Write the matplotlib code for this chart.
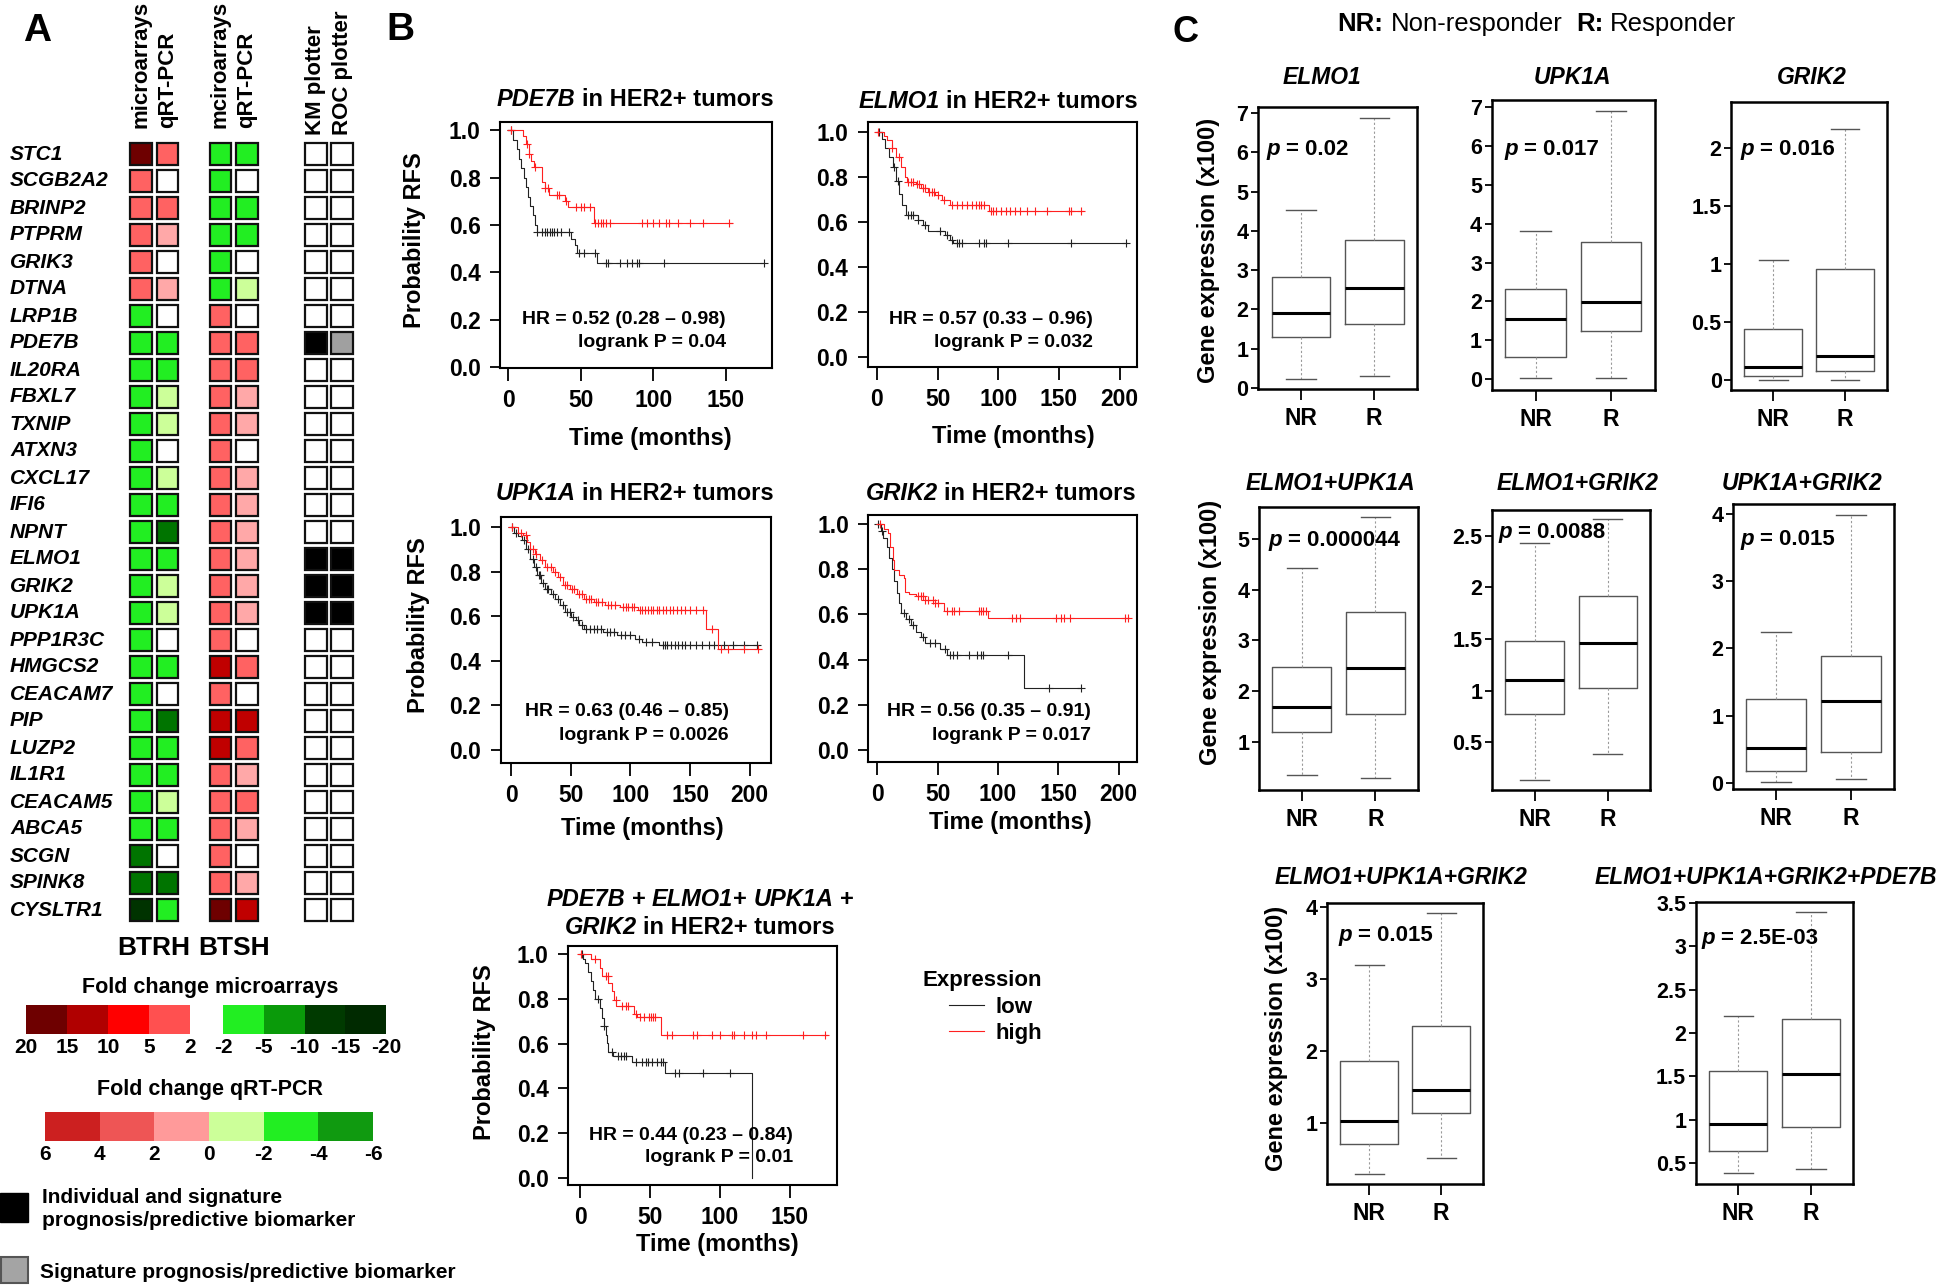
import matplotlib
matplotlib.use("Agg")
import matplotlib.pyplot as plt
import matplotlib.transforms as mtransforms
import numpy as np
from matplotlib.patches import Rectangle

W, H = 1946, 1285
FONT = "Liberation Sans"
plt.rcParams["font.family"] = [FONT, "DejaVu Sans"]

# ---------------- panel A data ----------------
genes = ["STC1", "SCGB2A2", "BRINP2", "PTPRM", "GRIK3", "DTNA", "LRP1B", "PDE7B",
         "IL20RA", "FBXL7", "TXNIP", "ATXN3", "CXCL17", "IFI6", "NPNT", "ELMO1",
         "GRIK2", "UPK1A", "PPP1R3C", "HMGCS2", "CEACAM7", "PIP", "LUZP2", "IL1R1",
         "CEACAM5", "ABCA5", "SCGN", "SPINK8", "CYSLTR1"]
btrh_micro = ["m20"] + ["m5"] * 5 + ["mg2"] * 20 + ["mg5", "mg5", "mg10"]
btrh_qpcr = ["q4", "w", "q4", "q2", "w", "q2", "w", "qg2", "qg2", "qg0", "qg0", "w", "qg0",
             "qg2", "qg4", "qg2", "qg0", "qg0", "w", "qg2", "w", "qg4", "qg2", "qg2", "qg0",
             "qg2", "w", "qg4", "qg2"]
btsh_micro = ["mg2"] * 6 + ["m5"] * 13 + ["m15", "m5", "m15", "m15", "m5", "m5", "m5",
                                          "m5", "m5", "m20"]
btsh_qpcr = ["qg2", "w", "qg2", "qg2", "w", "qg0", "w", "q4", "q4", "q2", "q2", "w", "q2",
             "q2", "q2", "q2", "q2", "q2", "w", "q4", "w", "q6", "q4", "q2", "q4", "q2",
             "w", "q2", "q6"]
km_plotter = ["w"] * 7 + ["k"] + ["w"] * 7 + ["k", "k", "k"] + ["w"] * 11
roc_plotter = ["w"] * 7 + ["g"] + ["w"] * 7 + ["k", "k", "k"] + ["w"] * 11
column_headers = ["microarrays", "qRT-PCR", "mciroarrays", "qRT-PCR", "KM plotter", "ROC plotter"]

cell_colors = {"m20": "#6e0000", "m15": "#c00000", "m5": "#ff6262", "mg2": "#22ee22",
               "mg5": "#007400", "mg10": "#003300", "q6": "#c00000", "q4": "#ff6262",
               "q2": "#ffa8a8", "qg0": "#ccff99", "qg2": "#22ee22", "qg4": "#007400",
               "w": "white", "k": "black", "g": "#a0a0a0"}

micro_up_ticks = ["20", "15", "10", "5", "2"]
micro_up_colors = ["#6e0000", "#b00000", "#ff0000", "#ff5050"]
micro_down_ticks = ["-2", "-5", "-10", "-15", "-20"]
micro_down_colors = ["#22ee22", "#0a9a0a", "#003a00", "#002a00"]
qpcr_ticks = ["6", "4", "2", "0", "-2", "-4", "-6"]
qpcr_colors = ["#cc2020", "#ee5555", "#ff9a9a", "#ccff99", "#22ee22", "#109a10"]

# ---------------- panel B data (months, survival) ----------------
pde7b_high_t = [0, 10, 12, 14, 16, 18, 23, 25, 28, 39, 41, 59]
pde7b_high_s = [1.0, 0.975, 0.94, 0.90, 0.87, 0.845, 0.78, 0.755, 0.725, 0.70, 0.676, 0.606]
pde7b_high_end = 154
pde7b_high_cens = [2, 12.7, 14.4, 18.4, 25, 27.4, 33.5, 35, 40, 47, 50, 52, 56, 60, 62, 63.6,
                   65.3, 67, 70.3, 92, 95.4, 100, 103.8, 108.8, 110.5, 117, 125.5, 134, 152]
pde7b_low_t = [0, 3, 6, 7.5, 9, 10.5, 12, 13.5, 15, 16.7, 18.4, 19.5, 43.5, 46, 47.5, 61]
pde7b_low_s = [1.0, 0.96, 0.92, 0.88, 0.84, 0.80, 0.76, 0.72, 0.68, 0.64, 0.60, 0.572, 0.54,
               0.514, 0.48, 0.437]
pde7b_low_end = 176
pde7b_low_cens = [2, 20, 23.4, 25, 27, 28.5, 30, 31.5, 33.5, 36, 42, 48.5, 52, 60, 67, 68.6,
                  77, 82, 85.4, 88.7, 90.4, 107, 176]

elmo1_high_t = [0, 6, 8, 12, 16, 20, 23, 25, 32, 36, 42, 48, 54, 60, 92]
elmo1_high_s = [1.0, 0.98, 0.963, 0.93, 0.889, 0.844, 0.80, 0.778, 0.768, 0.753, 0.733, 0.719,
                0.696, 0.677, 0.649]
elmo1_high_end = 170
elmo1_high_cens = [1, 12, 18, 26, 28, 30, 33, 35, 38, 40, 43, 45, 47, 50, 55, 62, 66, 70, 74,
                   78, 82, 84, 86, 88, 94, 96, 98, 102, 106, 110, 114, 118, 124, 130, 140,
                   158, 160, 168]
elmo1_low_t = [0, 4, 7, 10, 13, 16, 18, 21, 24, 34, 38, 42, 56, 60, 63]
elmo1_low_s = [1.0, 0.97, 0.93, 0.89, 0.844, 0.78, 0.726, 0.674, 0.63, 0.607, 0.585, 0.56,
               0.54, 0.52, 0.507]
elmo1_low_end = 206
elmo1_low_cens = [2, 14, 17, 26, 28, 30, 34, 40, 52, 58, 62, 66, 68, 70, 84, 88, 90, 108,
                  160, 205]

upk1a_high_t = [0, 6, 10, 13, 16, 20, 24, 28, 35, 39, 43, 49, 55, 61, 69, 79, 91, 106, 163, 173]
upk1a_high_s = [1.0, 0.975, 0.963, 0.933, 0.903, 0.881, 0.851, 0.821, 0.799, 0.776, 0.739,
                0.724, 0.70, 0.679, 0.665, 0.649, 0.642, 0.627, 0.545, 0.451]
upk1a_high_end = 209
upk1a_high_cens = [1, 8, 12, 18, 21, 26, 30, 33, 37, 41, 45, 47, 51, 53, 57, 59, 63, 65, 67,
                   71, 73, 76, 81, 84, 87, 94, 96, 98, 101, 103, 108, 110, 112, 115, 117, 119,
                   122, 124, 127, 130, 133, 136, 139, 142, 146, 150, 155, 161, 168, 176, 182,
                   195, 207]
upk1a_low_t = [0, 2, 6, 9, 12, 16, 19, 22, 25, 28, 33, 37, 41, 45, 50, 54, 57, 61, 77, 89,
               104, 110, 124]
upk1a_low_s = [1.0, 0.975, 0.96, 0.94, 0.90, 0.858, 0.82, 0.784, 0.75, 0.724, 0.70, 0.679,
               0.65, 0.619, 0.597, 0.582, 0.56, 0.545, 0.53, 0.515, 0.50, 0.485, 0.47]
upk1a_low_end = 207
upk1a_low_cens = [1, 4, 11, 14, 18, 21, 23, 24, 27, 30, 31, 35, 39, 43, 47, 49, 52, 56, 59,
                  63, 66, 69, 72, 75, 80, 83, 86, 92, 95, 100, 107, 113, 118, 127, 129, 131,
                  134, 137, 140, 143, 146, 150, 155, 160, 166, 170, 178, 186, 195, 206]

grik2_high_t = [0, 6, 9, 11, 13, 14, 18, 22, 23, 26, 32, 40, 48, 55, 92]
grik2_high_s = [1.0, 0.98, 0.96, 0.90, 0.842, 0.798, 0.775, 0.76, 0.70, 0.69, 0.68, 0.665,
                0.65, 0.613, 0.583]
grik2_high_end = 209
grik2_high_cens = [2, 34, 36, 38, 40, 42, 46, 48, 50, 58, 62, 64, 68, 84, 86, 88, 90, 112,
                   115, 118, 148, 152, 155, 160, 205, 208]
grik2_low_t = [0, 3, 5, 8, 10, 12, 14, 16, 18, 20, 24, 28, 32, 36, 40, 52, 58, 122]
grik2_low_s = [1.0, 0.97, 0.94, 0.90, 0.85, 0.80, 0.746, 0.694, 0.65, 0.606, 0.58, 0.554,
               0.524, 0.502, 0.473, 0.446, 0.421, 0.276]
grik2_low_end = 169
grik2_low_cens = [1, 4, 22, 26, 30, 38, 44, 48, 56, 60, 63, 66, 76, 83, 86, 88, 108, 142, 169]

sig_high_t = [0, 7.6, 14, 16, 20, 22.7, 24, 26, 38.7, 40.7, 57.6]
sig_high_s = [1.0, 0.979, 0.9375, 0.90, 0.87, 0.833, 0.796, 0.769, 0.732, 0.72, 0.64]
sig_high_end = 176.7
sig_high_cens = [0.9, 11, 18.3, 19.8, 25.6, 30, 33, 34.6, 40, 43, 46, 49, 50.6, 52, 53.5, 62,
                 66, 80.8, 83.7, 94, 99.7, 108.4, 110, 117, 123, 126, 133, 159, 175]
sig_low_t = [0, 1.8, 3.8, 5.8, 7.6, 9.6, 11, 14, 15.4, 16.9, 18.3, 19.2, 20.3, 23.3, 37.2,
             60.5, 123]
sig_low_s = [1.0, 0.98, 0.96, 0.92, 0.878, 0.84, 0.80, 0.76, 0.714, 0.68, 0.64, 0.603, 0.565,
             0.543, 0.516, 0.469, 0.0]
sig_low_end = 123
sig_low_cens = [1.7, 12.5, 17.4, 22.7, 27, 29, 31.4, 32.8, 40, 44.5, 47.4, 48.8, 51.7, 54.7,
                57.6, 59, 67.7, 70.6, 88, 107]

hr_labels = ["HR = 0.52 (0.28 \u2013 0.98)", "HR = 0.57 (0.33 \u2013 0.96)",
             "HR = 0.63 (0.46 \u2013 0.85)", "HR = 0.56 (0.35 \u2013 0.91)",
             "HR = 0.44 (0.23 \u2013 0.84)"]
logrank_labels = ["logrank P = 0.04", "logrank P = 0.032", "logrank P = 0.0026",
                  "logrank P = 0.017", "logrank P = 0.01"]

# ---------------- panel C data: [whisker low, Q1, median, Q3, whisker high] ----------------
elmo1_nr = [0.23, 1.30, 1.90, 2.82, 4.54]
elmo1_r = [0.30, 1.64, 2.54, 3.77, 6.87]
upk1a_nr = [0.03, 0.58, 1.56, 2.31, 3.81]
upk1a_r = [0.04, 1.24, 1.99, 3.52, 6.91]
grik2_nr = [0.0, 0.03, 0.11, 0.44, 1.03]
grik2_r = [0.0, 0.07, 0.20, 0.955, 2.17]
elmo1_upk1a_nr = [0.34, 1.19, 1.69, 2.48, 4.43]
elmo1_upk1a_r = [0.28, 1.54, 2.45, 3.55, 5.43]
elmo1_grik2_nr = [0.135, 0.775, 1.10, 1.485, 2.435]
elmo1_grik2_r = [0.384, 1.023, 1.46, 1.92, 2.66]
upk1a_grik2_nr = [0.015, 0.17, 0.52, 1.24, 2.24]
upk1a_grik2_r = [0.05, 0.45, 1.22, 1.89, 3.985]
three_nr = [0.29, 0.70, 1.03, 1.86, 3.19]
three_r = [0.51, 1.13, 1.45, 2.34, 3.91]
four_nr = [0.385, 0.646, 0.95, 1.56, 2.195]
four_r = [0.43, 0.92, 1.53, 2.16, 3.40]
p_values = ["0.02", "0.017", "0.016", "0.000044", "0.0088", "0.015", "0.015", "2.5E-03"]
groups = ["NR", "R"]

fig = plt.figure(figsize=(W / 100, H / 100), dpi=100)
renderer = fig.canvas.get_renderer()


def fx(x):
    return x / W


def fy(y):
    return 1 - y / H


def box(x0, y0, x1, y1):
    return [x0 / W, 1 - y1 / H, (x1 - x0) / W, (y1 - y0) / H]


def label(x, y, s, size, **kw):
    kw.setdefault("ha", "center")
    kw.setdefault("va", "center")
    kw.setdefault("fontweight", "bold")
    return fig.text(fx(x), fy(y), s, fontsize=size, family=FONT, **kw)


def rich_text(x, y, parts, size, ha="center"):
    # pieces of mixed style laid side by side; y is the middle of the capitals (pixels)
    em = size * 100 / 72
    base = fy(y + 0.36 * em)
    placed, widths = [], []
    for s, weight, style in parts:
        gap = (len(s) - len(s.lstrip(" "))) * 0.27 * em
        t = fig.text(0, base, s.lstrip(" "), fontsize=size, fontweight=weight,
                     fontstyle=style, family=FONT, ha="left", va="baseline")
        placed.append((t, gap))
        widths.append(gap + t.get_window_extent(renderer).width)
    x0 = x - sum(widths) / 2 if ha == "center" else x
    for (t, gap), w in zip(placed, widths):
        t.set_x(fx(x0 + gap))
        x0 += w


# ================= Panel A =================
label(37, 31, "A", 28)
col_x = [0, 1, 3, 4, 6.6, 7.6]
columns = [btrh_micro, btrh_qpcr, btsh_micro, btsh_qpcr, km_plotter, roc_plotter]
ax = fig.add_axes(box(127.75, 140.5, 127.75 + 8.6 * 26.5, 140.5 + 29 * 27))
ax.set_xlim(-0.5, 8.1)
ax.set_ylim(28.5, -0.5)
ax.axis("off")
for cx, col in zip(col_x, columns):
    for i, code in enumerate(col):
        ax.add_patch(Rectangle((cx - 0.415, i - 0.405), 0.83, 0.81,
                               facecolor=cell_colors[code], edgecolor="#111111", lw=1.6))
for j, (cx, head) in enumerate(zip(col_x, column_headers)):
    ax.text(cx, -0.96 if j < 4 else -0.70, head, rotation=90, ha="center", va="bottom",
            fontsize=16, fontweight="bold")
trans = mtransforms.blended_transform_factory(fig.transFigure, ax.transData)
for i, g in enumerate(genes):
    ax.text(fx(10), i, g, transform=trans, ha="left", va="center", fontsize=15,
            fontweight="bold", fontstyle="italic")
ax.text(0.5, 29.4, "BTRH", ha="center", va="center", fontsize=19, fontweight="bold")
ax.text(3.5, 29.4, "BTSH", ha="center", va="center", fontsize=19, fontweight="bold")

# colour keys
label(210, 987, "Fold change microarrays", 15.5)
label(210, 1089, "Fold change qRT-PCR", 15.5)
for rect, cols, ticks in [((26, 1005, 190, 1034), micro_up_colors, micro_up_ticks),
                          ((223, 1005, 386, 1034), micro_down_colors, micro_down_ticks),
                          ((45, 1112, 373, 1141), qpcr_colors, qpcr_ticks)]:
    cax = fig.add_axes(box(*rect))
    cax.bar(np.arange(len(cols)), 1, width=1, align="edge", color=cols, linewidth=0)
    cax.set_xlim(0, len(cols))
    cax.set_ylim(0, 1)
    cax.set_yticks([])
    cax.set_xticks(np.arange(len(ticks)), ticks, fontsize=15, fontweight="bold")
    cax.tick_params(axis="x", length=0, pad=3)
    for sp in cax.spines.values():
        sp.set_visible(False)

fig.add_artist(Rectangle((fx(0), fy(1222)), 28 / W, 29 / H, transform=fig.transFigure,
                         facecolor="black", edgecolor="black"))
fig.add_artist(Rectangle((fx(1), fy(1283)), 27 / W, 26 / H, transform=fig.transFigure,
                         facecolor="#a4a4a4", edgecolor="#555555", lw=1.5))
label(42, 1209, "Individual and signature\nprognosis/predictive biomarker", 15, ha="left",
      linespacing=1.25)
label(40, 1272, "Signature prognosis/predictive biomarker", 15, ha="left")

# ================= Panel B =================
label(400, 30, "B", 28)


def km_curve(kax, times, surv, end, cens, color):
    line, = kax.step(list(times) + [end], list(surv) + [surv[-1]], where="post",
                     color=color, lw=0.8)
    idx = np.searchsorted(times, cens, side="right") - 1
    kax.plot(cens, np.asarray(surv)[idx], ls="none", marker="+", ms=6, mew=0.8, color=color)
    return line


def gene_title(gene):
    return [[(gene, "bold", "italic"), (" in HER2+ tumors", "bold", "normal")]]


km_specs = [
    dict(rect=(500, 122, 772, 368), xlim=(-5.7, 181.7), ylim=(-0.005, 1.035),
         xticks=[0, 50, 100, 150],
         low=(pde7b_low_t, pde7b_low_s, pde7b_low_end, pde7b_low_cens),
         high=(pde7b_high_t, pde7b_high_s, pde7b_high_end, pde7b_high_cens),
         title=gene_title("PDE7B"), title_xy=(635, [98]), hr_xy=(726, 320, 343),
         xlab=(650, 438)),
    dict(rect=(867.5, 122, 1136.5, 367), xlim=(-7.8, 214), ylim=(-0.044, 1.044),
         xticks=[0, 50, 100, 150, 200],
         low=(elmo1_low_t, elmo1_low_s, elmo1_low_end, elmo1_low_cens),
         high=(elmo1_high_t, elmo1_high_s, elmo1_high_end, elmo1_high_cens),
         title=gene_title("ELMO1"), title_xy=(998, [100]), hr_xy=(1093, 320, 343),
         xlab=(1013, 437)),
    dict(rect=(500.5, 517, 770.5, 763), xlim=(-9, 217.4), ylim=(-0.058, 1.045),
         xticks=[0, 50, 100, 150, 200],
         low=(upk1a_low_t, upk1a_low_s, upk1a_low_end, upk1a_low_cens),
         high=(upk1a_high_t, upk1a_high_s, upk1a_high_end, upk1a_high_cens),
         title=gene_title("UPK1A"), title_xy=(635, [492]), hr_xy=(729, 712, 736),
         xlab=(642, 828)),
    dict(rect=(868.4, 515, 1136.5, 762), xlim=(-7.3, 214.8), ylim=(-0.053, 1.04),
         xticks=[0, 50, 100, 150, 200],
         low=(grik2_low_t, grik2_low_s, grik2_low_end, grik2_low_cens),
         high=(grik2_high_t, grik2_high_s, grik2_high_end, grik2_high_cens),
         title=gene_title("GRIK2"), title_xy=(1001, [492]), hr_xy=(1091, 712, 736),
         xlab=(1010, 822)),
    dict(rect=(568.3, 946, 836.7, 1185), xlim=(-8.4, 183.4), ylim=(-0.031, 1.036),
         xticks=[0, 50, 100, 150],
         low=(sig_low_t, sig_low_s, sig_low_end, sig_low_cens),
         high=(sig_high_t, sig_high_s, sig_high_end, sig_high_cens),
         title=[[("PDE7B", "bold", "italic"), (" +", "bold", "normal"),
                 (" ELMO1", "bold", "italic"), ("+", "bold", "normal"),
                 (" UPK1A", "bold", "italic"), (" +", "bold", "normal")],
                gene_title("GRIK2")[0]],
         title_xy=(700, [897, 925]), hr_xy=(793, 1136, 1158), xlab=(717, 1245)),
]

legend_lines = []
for k, spec in enumerate(km_specs):
    kax = fig.add_axes(box(*spec["rect"]))
    low_line = km_curve(kax, *spec["low"], "#222222")
    high_line = km_curve(kax, *spec["high"], "#ff2020")
    legend_lines = [low_line, high_line]
    kax.set_xlim(*spec["xlim"])
    kax.set_ylim(*spec["ylim"])
    kax.set_xticks(spec["xticks"], [str(v) for v in spec["xticks"]], fontsize=16.5,
                   fontweight="bold")
    yt = [0, 0.2, 0.4, 0.6, 0.8, 1.0]
    kax.set_yticks(yt, [f"{v:.1f}" for v in yt], fontsize=16.5, fontweight="bold")
    kax.tick_params(axis="x", direction="out", length=9, width=1.3, pad=6)
    kax.tick_params(axis="y", direction="out", length=7, width=1.3, pad=7)
    for sp in kax.spines.values():
        sp.set_linewidth(1.5)
    for line_parts, ty in zip(spec["title"], spec["title_xy"][1]):
        rich_text(spec["title_xy"][0], ty, line_parts, 17)
    hx, hy1, hy2 = spec["hr_xy"]
    label(hx, hy1, hr_labels[k], 14, ha="right")
    label(hx, hy2, logrank_labels[k], 14, ha="right")
    label(spec["xlab"][0], spec["xlab"][1], "Time (months)", 17)

label(414, 240, "Probability RFS", 17, rotation=90)
label(418, 625, "Probability RFS", 17, rotation=90)
label(484, 1052, "Probability RFS", 17, rotation=90)

fig.legend(legend_lines, ["low", "high"], title="Expression", loc="upper left",
           bbox_to_anchor=(fx(923), fy(970)), frameon=False, borderpad=0, borderaxespad=0,
           handlelength=1.58, handletextpad=0.54, labelspacing=0.25, alignment="right",
           prop={"family": FONT, "weight": "bold", "size": 16},
           title_fontproperties={"family": FONT, "weight": "bold", "size": 16})

# ================= Panel C =================
label(1186, 33, "C", 26)
rich_text(1537, 22, [("NR:", "bold", "normal"), (" Non-responder", "normal", "normal"),
                     ("  R:", "bold", "normal"), (" Responder", "normal", "normal")], 18.5)

box_specs = [
    ((1258.3, 107, 1416.7, 389), (-0.03, 7.16), [0, 1, 2, 3, 4, 5, 6, 7], elmo1_nr, elmo1_r,
     "ELMO1", (1322, 78), (1266, 147)),
    ((1491.7, 100, 1655, 390), (-0.28, 7.19), [0, 1, 2, 3, 4, 5, 6, 7], upk1a_nr, upk1a_r,
     "UPK1A", (1572, 78), (1504, 147)),
    ((1731.4, 102, 1886.8, 390), (-0.09, 2.40), [0, 0.5, 1, 1.5, 2], grik2_nr, grik2_r,
     "GRIK2", (1812, 78), (1740, 147)),
    ((1259.2, 507, 1418.1, 790), (0.047, 5.63), [1, 2, 3, 4, 5], elmo1_upk1a_nr,
     elmo1_upk1a_r, "ELMO1+UPK1A", (1330, 483), (1268, 538)),
    ((1492.3, 510, 1650.2, 790), (0.038, 2.75), [0.5, 1, 1.5, 2, 2.5], elmo1_grik2_nr,
     elmo1_grik2_r, "ELMO1+GRIK2", (1578, 483), (1498, 530)),
    ((1732.9, 504, 1894.3, 789), (-0.094, 4.15), [0, 1, 2, 3, 4], upk1a_grik2_nr,
     upk1a_grik2_r, "UPK1A+GRIK2", (1802, 483), (1740, 537)),
    ((1327.4, 903, 1483, 1184), (0.15, 4.05), [1, 2, 3, 4], three_nr, three_r,
     "ELMO1+UPK1A+GRIK2", (1401, 878), (1338, 933)),
    ((1695.9, 902, 1853.3, 1184), (0.26, 3.51), [0.5, 1, 1.5, 2, 2.5, 3, 3.5], four_nr, four_r,
     "ELMO1+UPK1A+GRIK2+PDE7B", (1766, 878), (1701, 936)),
]

for k, (rect, ylim, yticks, nr, r, title, title_xy, p_xy) in enumerate(box_specs):
    bax = fig.add_axes(box(*rect))
    stats = [dict(whislo=v[0], q1=v[1], med=v[2], q3=v[3], whishi=v[4], fliers=[], label=g)
             for v, g in zip([nr, r], groups)]
    bax.bxp(stats, positions=[1, 2], widths=0.8, showfliers=False,
            boxprops=dict(color="#555555", lw=1.0),
            whiskerprops=dict(color="#9a9a9a", lw=0.8, ls=(0, (2, 2))),
            capprops=dict(color="#555555", lw=1.0),
            medianprops=dict(color="black", lw=2.2))
    bax.set_xlim(0.42, 2.58)
    bax.set_ylim(*ylim)
    bax.set_xticks([1, 2], groups, fontsize=16.5, fontweight="bold")
    bax.set_yticks(yticks, [f"{v:g}" for v in yticks], fontsize=15.5, fontweight="bold")
    bax.tick_params(axis="x", direction="out", length=8, width=1.3, pad=5)
    bax.tick_params(axis="y", direction="out", length=5, width=1.3, pad=2)
    for sp in bax.spines.values():
        sp.set_linewidth(1.8)
    label(title_xy[0], title_xy[1], title, 16.5, fontstyle="italic")
    rich_text(p_xy[0], p_xy[1], [("p", "bold", "italic"), (" = " + p_values[k], "bold", "normal")],
              16, ha="left")

label(1208, 250, "Gene expression (x100)", 17, rotation=90)
label(1210, 632, "Gene expression (x100)", 17, rotation=90)
label(1276, 1038, "Gene expression (x100)", 17, rotation=90)

fig.savefig("out.png", dpi=100)
